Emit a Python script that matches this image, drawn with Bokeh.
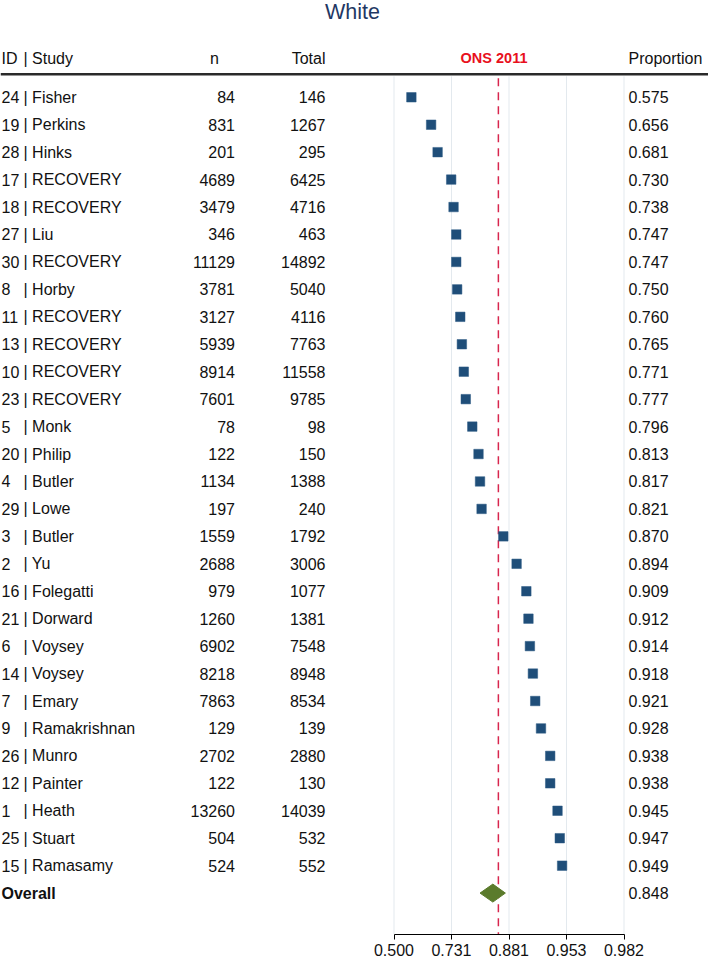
import math
from bokeh.plotting import figure
from bokeh.models import ColumnDataSource, Range1d, FixedTicker
from bokeh.core.properties import value
from bokeh.embed import file_html
from bokeh.resources import INLINE

# ---------------- data ----------------
ids = [24, 19, 28, 17, 18, 27, 30, 8, 11, 13, 10, 23, 5, 20, 4, 29, 3, 2, 16, 21,
       6, 14, 7, 9, 26, 12, 1, 25, 15]
studies = ["Fisher", "Perkins", "Hinks", "RECOVERY", "RECOVERY", "Liu", "RECOVERY",
           "Horby", "RECOVERY", "RECOVERY", "RECOVERY", "RECOVERY", "Monk", "Philip",
           "Butler", "Lowe", "Butler", "Yu", "Folegatti", "Dorward", "Voysey", "Voysey",
           "Emary", "Ramakrishnan", "Munro", "Painter", "Heath", "Stuart", "Ramasamy"]
n_vals = [84, 831, 201, 4689, 3479, 346, 11129, 3781, 3127, 5939, 8914, 7601, 78, 122,
          1134, 197, 1559, 2688, 979, 1260, 6902, 8218, 7863, 129, 2702, 122, 13260, 504, 524]
totals = [146, 1267, 295, 6425, 4716, 463, 14892, 5040, 4116, 7763, 11558, 9785, 98, 150,
          1388, 240, 1792, 3006, 1077, 1381, 7548, 8948, 8534, 139, 2880, 130, 14039, 532, 552]
proportions = [0.575, 0.656, 0.681, 0.730, 0.738, 0.747, 0.747, 0.750, 0.760, 0.765,
               0.771, 0.777, 0.796, 0.813, 0.817, 0.821, 0.870, 0.894, 0.909, 0.912,
               0.914, 0.918, 0.921, 0.928, 0.938, 0.938, 0.945, 0.947, 0.949]
overall_est = 0.848
overall_lo = 0.817
overall_hi = 0.874
ons_2011 = 0.86
tick_values = [0, 1, 2, 3, 4]          # logit scale
tick_labels = ["0.500", "0.731", "0.881", "0.953", "0.982"]
title_text = "White"


def logit(p):
    return math.log(p / (1 - p))


# ---------------- layout constants ----------------
W, H = 708, 958
PXU = 57.5                # px per logit unit
X_ZERO = 393.5            # px of logit 0
PYU = 27.5                # px per row
Y_ROW1 = 97.0
FRAME_H = 936.0

x_start = -X_ZERO / PXU
x_end = x_start + W / PXU
y_top = 1 - Y_ROW1 / PYU
y_bottom = y_top + FRAME_H / PYU


def fx(ref_x):
    return (ref_x - X_ZERO) / PXU


def fy(ref_y):
    return y_top + ref_y / PYU


FONT = value("Liberation Sans")
FS = "16px"
TXT = "#111111"

p = figure(width=W, height=H, output_backend="svg", toolbar_location=None,
           x_range=Range1d(x_start, x_end), y_range=Range1d(y_bottom, y_top),
           y_axis_location=None, min_border=0, min_border_bottom=0)
p.outline_line_color = None
p.xgrid.visible = False
p.ygrid.visible = False
p.background_fill_color = "white"

rows = list(range(1, len(ids) + 1))
overall_row = len(ids) + 1

src = ColumnDataSource(dict(
    y=rows,
    id=[str(i) for i in ids],
    name=["| " + s for s in studies],
    n=[str(v) for v in n_vals],
    tot=[str(v) for v in totals],
    prop=["%.3f" % v for v in proportions],
    lx=[logit(v) for v in proportions],
))

# grid lines at ticks
p.segment(x0=tick_values, x1=tick_values, y0=fy(76), y1=y_bottom,
          line_color="#e3e9ee", line_width=1)

# ONS reference line
ons_x = logit(ons_2011)
p.segment(x0=[ons_x], x1=[ons_x], y0=fy(78), y1=y_bottom,
          line_color="#d8264e", line_width=1.5, line_dash="8 6")

# header line
p.segment(x0=[x_start], x1=[x_end], y0=fy(74), y1=fy(74),
          line_color="#2a2a2a", line_width=2.5)

# title
p.text(x=[fx(352)], y=[fy(11.5)], text=[title_text], text_font=FONT,
       text_font_size="21.5px", text_color="#1f3864", text_align="center",
       text_baseline="middle")

# headers
hy = fy(58)
p.text(x=[fx(1)], y=[hy], text=["ID"], text_font=FONT, text_font_size=FS,
       text_color=TXT, text_align="left", text_baseline="middle")
p.text(x=[fx(23)], y=[hy], text=["| Study"], text_font=FONT, text_font_size=FS,
       text_color=TXT, text_align="left", text_baseline="middle")
p.text(x=[fx(214)], y=[hy], text=["n"], text_font=FONT, text_font_size=FS,
       text_color=TXT, text_align="center", text_baseline="middle")
p.text(x=[fx(325)], y=[hy], text=["Total"], text_font=FONT, text_font_size=FS,
       text_color=TXT, text_align="right", text_baseline="middle")
p.text(x=[fx(493.5)], y=[hy], text=["ONS 2011"], text_font=FONT, text_font_size="14.5px",
       text_font_style="bold", text_color="#e8101c", text_align="center",
       text_baseline="middle")
p.text(x=[fx(628)], y=[hy], text=["Proportion"], text_font=FONT, text_font_size=FS,
       text_color=TXT, text_align="left", text_baseline="middle")

# rows
common = dict(source=src, text_font=FONT, text_font_size=FS, text_color=TXT,
              text_baseline="middle")
p.text(x=fx(1), y="y", text="id", text_align="left", **common)
p.text(x=fx(23), y="y", text="name", text_align="left", **common)
p.text(x=fx(234.5), y="y", text="n", text_align="right", **common)
p.text(x=fx(325), y="y", text="tot", text_align="right", **common)
p.text(x=fx(628), y="y", text="prop", text_align="left", **common)

p.scatter(x="lx", y="y", source=src, marker="square", size=9.5,
          fill_color="#1f4e79", line_color="#2c5a85", line_width=0.5)

# overall
p.text(x=[fx(1)], y=[overall_row], text=["Overall"], text_font=FONT, text_font_size=FS,
       text_font_style="bold", text_color=TXT, text_align="left", text_baseline="middle")
p.text(x=[fx(628)], y=[overall_row], text=["%.3f" % overall_est], text_font=FONT,
       text_font_size=FS, text_color=TXT, text_align="left", text_baseline="middle")
dh = 9.0 / 27.5
p.patch(x=[logit(overall_lo), logit(overall_est), logit(overall_hi), logit(overall_est)],
        y=[overall_row, overall_row - dh, overall_row, overall_row + dh],
        fill_color="#5b7b2c", line_color="#5b7b2c", line_width=1)

# axis
ax = p.xaxis[0]
ax.bounds = (tick_values[0], tick_values[-1])
ax.ticker = FixedTicker(ticks=tick_values, minor_ticks=[])
ax.major_label_overrides = {t: l for t, l in zip(tick_values, tick_labels)}
ax.axis_line_color = "black"
ax.axis_line_width = 1
ax.major_tick_line_color = "black"
ax.major_tick_out = 5
ax.major_tick_in = 0
ax.minor_tick_line_color = None
ax.major_label_text_font = "Liberation Sans"
ax.major_label_text_font_size = "16px"
ax.major_label_text_color = TXT
ax.major_label_standoff = 4

open("out.html", "w").write(file_html(p, INLINE))
